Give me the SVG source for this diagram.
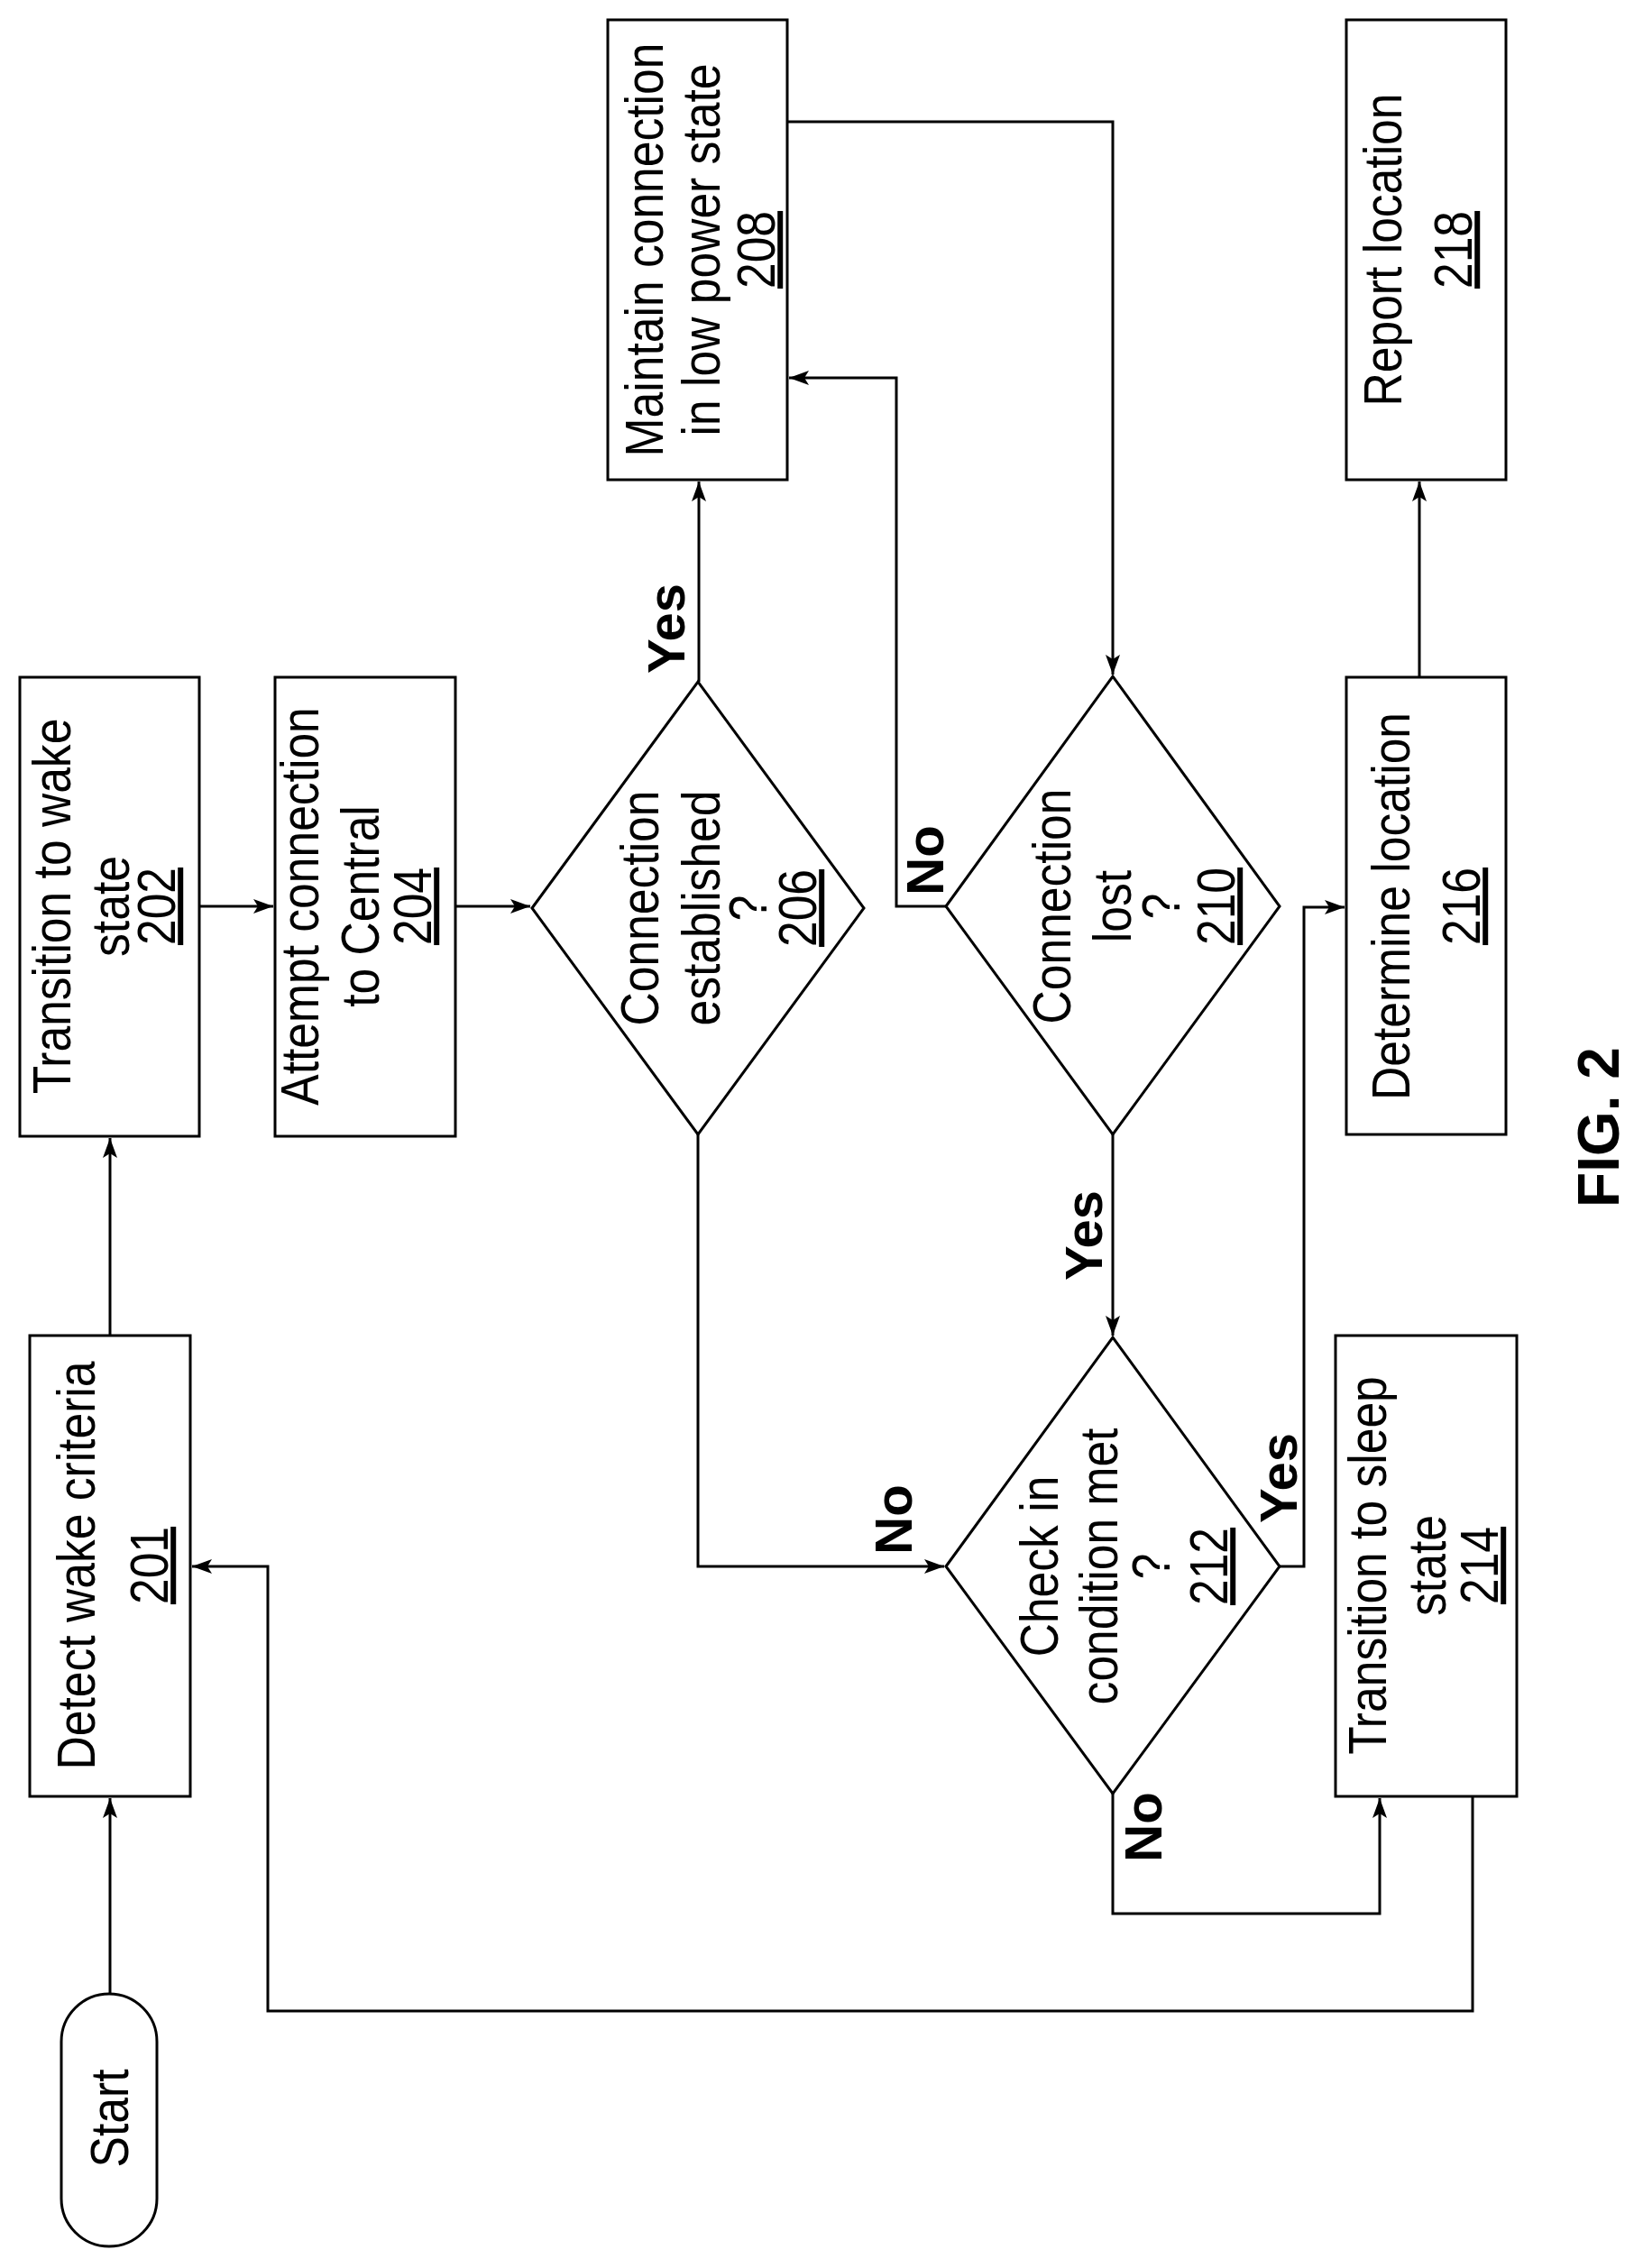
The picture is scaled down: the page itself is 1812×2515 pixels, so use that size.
<svg xmlns="http://www.w3.org/2000/svg" width="1812" height="2515" viewBox="0 0 1812 2515">
<defs>
<marker id="ah" markerUnits="userSpaceOnUse" markerWidth="24" markerHeight="18" refX="22" refY="9" orient="auto">
<path d="M0,1 L22,9 L0,17 L5,9 Z" fill="#000"/>
</marker>
<style>
.s{fill:#fff;stroke:#000;stroke-width:3}
.c{fill:none;stroke:#000;stroke-width:3;marker-end:url(#ah)}
.t{font-family:"Liberation Sans",Arial,sans-serif;font-size:60px;text-anchor:middle;fill:#000}
.u{text-decoration:underline}
.b{font-family:"Liberation Sans",Arial,sans-serif;font-size:58px;font-weight:bold;text-anchor:middle;fill:#000}
</style>
</defs>
<rect width="1812" height="2515" fill="#fff"/>
<g id="connectors">
<path class="c" d="M122 2211 V1994"/>
<path class="c" d="M122 1481 V1262"/>
<path class="c" d="M221 1005 H303"/>
<path class="c" d="M505 1005 H588"/>
<path class="c" d="M775 756 V534"/>
<path class="c" d="M873 135 H1234 V748"/>
<path class="c" d="M1049 1005 H994 V419 H875"/>
<path class="c" d="M774 1258 V1737 H1047"/>
<path class="c" d="M1234 1258 V1481"/>
<path class="c" d="M1419 1737 H1446 V1006 H1491"/>
<path class="c" d="M1574 751 V534"/>
<path class="c" d="M1234 1989 V2122 H1530 V1994"/>
<path class="c" d="M1633 1992 V2230 H297 V1737 H213"/>
<g transform="translate(738,697) rotate(-90)"><text class="b" y="21">Yes</text></g>
<g transform="translate(1025,954) rotate(-90)"><text class="b" y="21">No</text></g>
<g transform="translate(1201,1370) rotate(-90)"><text class="b" y="21">Yes</text></g>
<g transform="translate(990,1685) rotate(-90)"><text class="b" y="21">No</text></g>
<g transform="translate(1417,1639) rotate(-90)"><text class="b" y="21">Yes</text></g>
<g transform="translate(1267,2026) rotate(-90)"><text class="b" y="21">No</text></g>
</g>
<g id="start">
<rect class="s" x="68" y="2211" width="106" height="280" rx="53"/>
<g transform="translate(121,2349) rotate(-90)"><text class="t" transform="scale(0.86,1)" y="21">Start</text></g>
</g>
<g id="n201">
<rect class="s" x="33" y="1481" width="178" height="511"/>
<g transform="translate(122,1736) rotate(-90)"><text class="t" transform="scale(0.86,1)"><tspan x="0" y="-17">Detect wake criteria</tspan><tspan class="u" x="0" y="64">201</tspan></text></g>
</g>
<g id="n202">
<rect class="s" x="22" y="751" width="199" height="509"/>
<g transform="translate(122,1005) rotate(-90)"><text class="t" transform="scale(0.86,1)"><tspan x="0" y="-44">Transition to wake</tspan><tspan x="0" y="21">state</tspan><tspan class="u" x="0" y="72">202</tspan></text></g>
</g>
<g id="n204">
<rect class="s" x="305" y="751" width="200" height="509"/>
<g transform="translate(405,1005) rotate(-90)"><text class="t" transform="scale(0.86,1)"><tspan x="0" y="-52">Attempt connection</tspan><tspan x="0" y="15">to Central</tspan><tspan class="u" x="0" y="73">204</tspan></text></g>
</g>
<g id="n206">
<path class="s" d="M590 1007 L774 756 L958 1007 L774 1258 Z"/>
<g transform="translate(774,1007) rotate(-90)"><text class="t" transform="scale(0.86,1)"><tspan x="0" y="-44">Connection</tspan><tspan x="0" y="24">established</tspan><tspan x="0" y="76">?</tspan><tspan class="u" x="0" y="131">206</tspan></text></g>
</g>
<g id="n208">
<rect class="s" x="674" y="22" width="199" height="510"/>
<g transform="translate(773,277) rotate(-90)"><text class="t" transform="scale(0.86,1)"><tspan x="0" y="-38">Maintain connection</tspan><tspan x="0" y="25">in low power state</tspan><tspan class="u" x="0" y="86">208</tspan></text></g>
</g>
<g id="n210">
<path class="s" d="M1049 1005 L1234 750 L1419 1005 L1234 1258 Z"/>
<g transform="translate(1234,1005) rotate(-90)"><text class="t" transform="scale(0.86,1)"><tspan x="0" y="-47">Connection</tspan><tspan x="0" y="20">lost</tspan><tspan x="0" y="74">?</tspan><tspan class="u" x="0" y="135">210</tspan></text></g>
</g>
<g id="n212">
<path class="s" d="M1049 1737 L1234 1483 L1419 1737 L1234 1989 Z"/>
<g transform="translate(1234,1737) rotate(-90)"><text class="t" transform="scale(0.86,1)"><tspan x="0" y="-61">Check in</tspan><tspan x="0" y="5">condition met</tspan><tspan x="0" y="63">?</tspan><tspan class="u" x="0" y="127">212</tspan></text></g>
</g>
<g id="n214">
<rect class="s" x="1481" y="1481" width="201" height="511"/>
<g transform="translate(1581,1736) rotate(-90)"><text class="t" transform="scale(0.86,1)"><tspan x="0" y="-44">Transition to sleep</tspan><tspan x="0" y="22">state</tspan><tspan class="u" x="0" y="80">214</tspan></text></g>
</g>
<g id="n216">
<rect class="s" x="1493" y="751" width="177" height="507"/>
<g transform="translate(1581,1005) rotate(-90)"><text class="t" transform="scale(0.86,1)"><tspan x="0" y="-18">Determine location</tspan><tspan class="u" x="0" y="60">216</tspan></text></g>
</g>
<g id="n218">
<rect class="s" x="1493" y="22" width="177" height="510"/>
<g transform="translate(1581,277) rotate(-90)"><text class="t" transform="scale(0.86,1)"><tspan x="0" y="-27">Report location</tspan><tspan class="u" x="0" y="51">218</tspan></text></g>
</g>
<g id="fig">
<g transform="translate(1772,1250) rotate(-90)"><text class="b" style="font-size:64px" y="23">FIG. 2</text></g>
</g>
</svg>
